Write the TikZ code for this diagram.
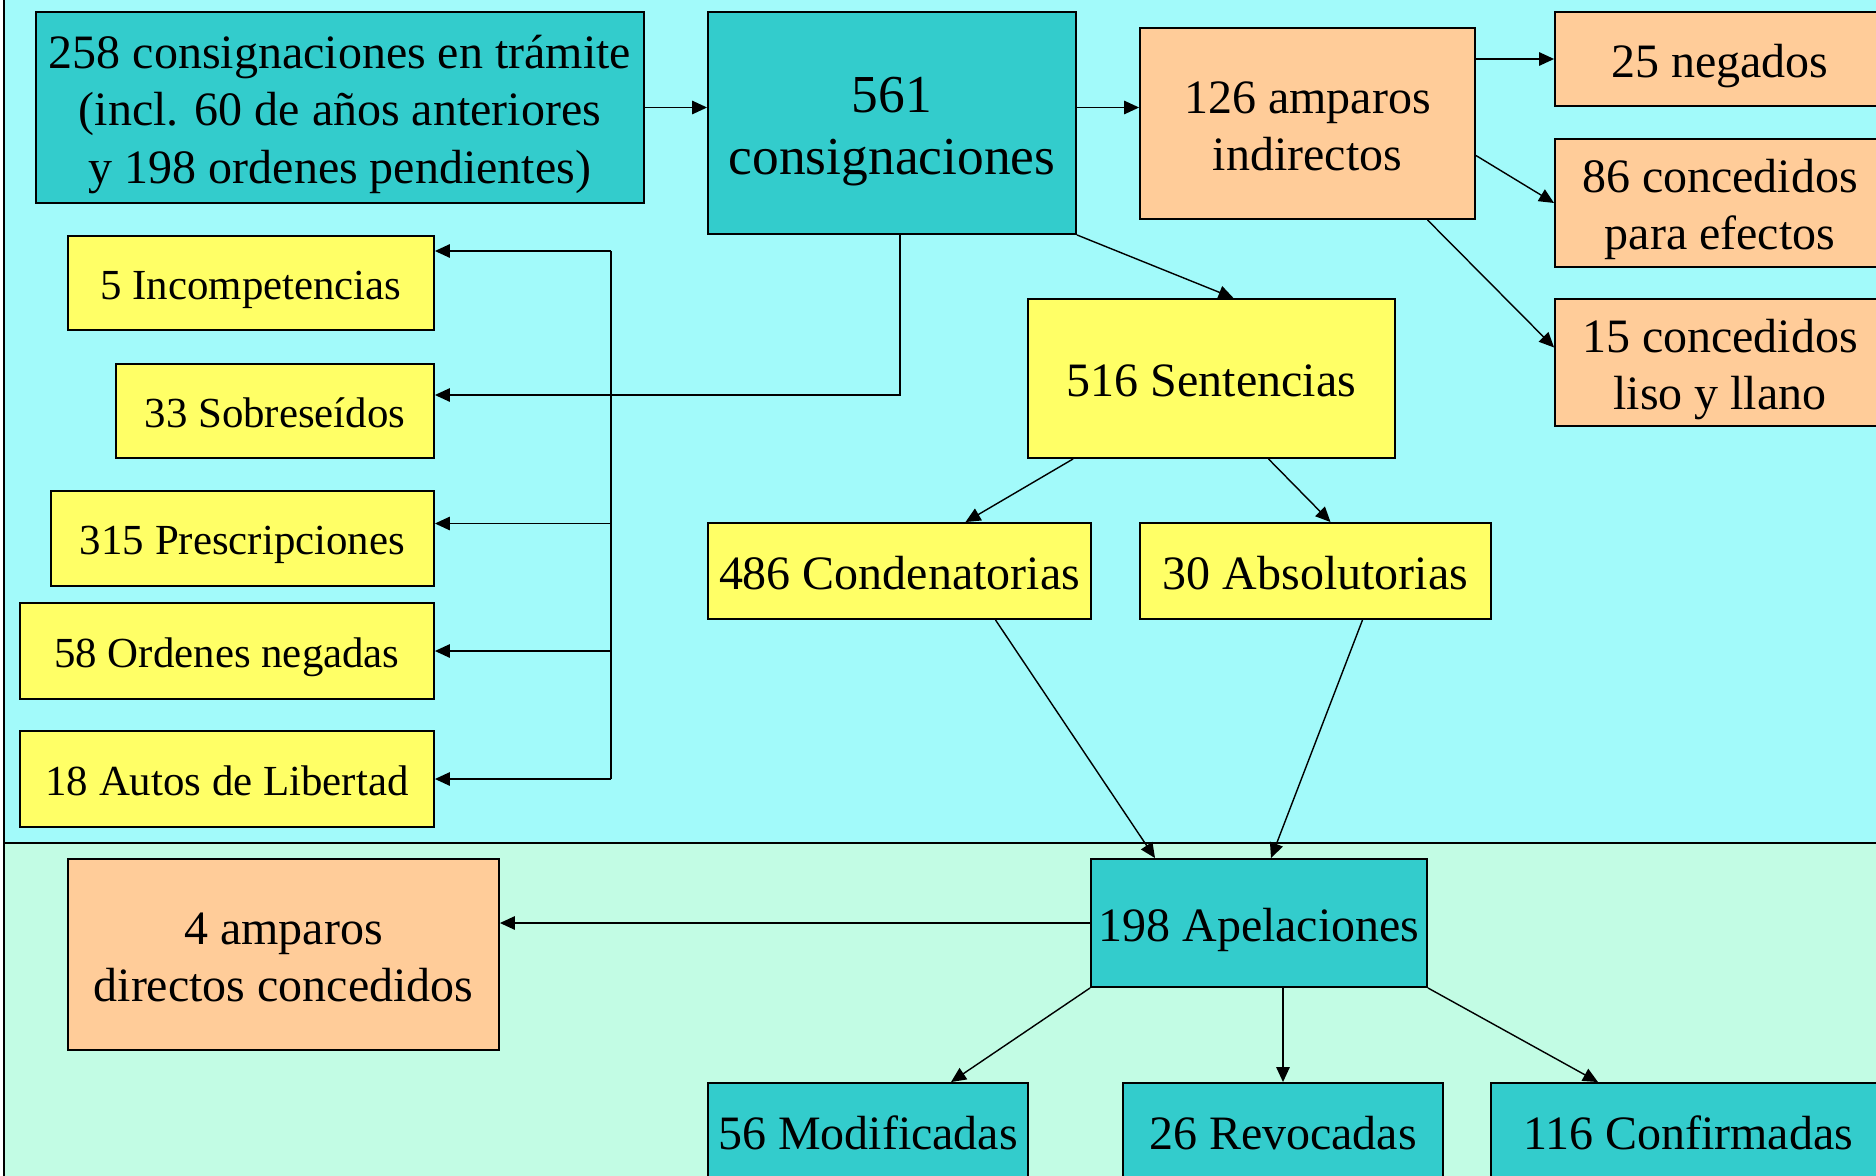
\documentclass[tikz,border=0pt]{standalone}
\usepackage{fontspec}
\setmainfont{Liberation Serif}
\usetikzlibrary{arrows.meta,calc}
\definecolor{bgtop}{RGB}{162,250,250}
\definecolor{bgbottom}{RGB}{194,252,228}
\definecolor{boxteal}{RGB}{51,204,204}
\definecolor{boxyellow}{RGB}{255,255,102}
\definecolor{boxorange}{RGB}{255,204,153}
% lifts the first line of a multi-line box the same way as a single line
\newcommand{\boxstrut}{\rule{0pt}{1.01em}}
\tikzset{
  box/.style={
    draw=black,
    line width=1.1pt,
    align=center,
    inner sep=0pt,
    font=\fontsize{27.3}{32.6}\selectfont,
    execute at begin node={\boxstrut},
    execute at end node={\rule[-0.25em]{0pt}{0pt}}
  },
  box-teal/.style={box, fill=boxteal},
  box-yellow/.style={box, fill=boxyellow},
  box-orange/.style={box, fill=boxorange},
  box-small/.style={box-yellow, font=\fontsize{24.4}{29.2}\selectfont},
  link/.style={draw=black, line width=0.8pt, -{Triangle[length=0.3cm,width=0.27cm]}}
}

\begin{document}
\begin{tikzpicture}[x=0.02cm,y=-0.02cm]
  \useasboundingbox (0,0) rectangle (1876,1176);

  % two background bands
  \draw[fill=bgtop, line width=0.9pt] (4,-10) rectangle (1890,843);
  \draw[fill=bgbottom, line width=0.9pt] (4,843) rectangle (1890,1190);

  % top row
  \node[box-teal, minimum width=12.16cm, minimum height=3.82cm] (n258) at (340,107.5)
    {\boxstrut 258 consignaciones en trámite\\(incl. 60 de años anteriores\\y 198 ordenes pendientes)};
  \node[box-teal, minimum width=7.36cm, minimum height=4.44cm,
    font=\fontsize{30.4}{35.5}\selectfont] (n561) at (892,123) {\boxstrut 561\\consignaciones};
  \node[box-orange, minimum width=6.70cm, minimum height=3.82cm] (n126) at (1307.5,123.5)
    {\boxstrut 126 amparos\\indirectos};
  \node[box-orange, minimum width=6.60cm, minimum height=1.88cm] (n25) at (1720,59) {25 negados};
  \node[box-orange, minimum width=6.60cm, minimum height=2.56cm] (n86) at (1720,203)
    {\boxstrut 86 concedidos\\para efectos};
  \node[box-orange, minimum width=6.60cm, minimum height=2.54cm] (n15) at (1720,362.5)
    {\boxstrut 15 concedidos\\liso y llano};

  % sentences
  \node[box-yellow, minimum width=7.34cm, minimum height=3.18cm] (n516) at (1211.5,378.5) {516 Sentencias};
  \node[box-yellow, minimum width=7.66cm, minimum height=1.92cm] (n486) at (899.5,571) {486 Condenatorias};
  \node[box-yellow, minimum width=7.02cm, minimum height=1.92cm] (n30) at (1315.5,571) {30 Absolutorias};

  % left column
  \node[box-small, minimum width=7.32cm, minimum height=1.88cm] (n5) at (251,283) {5 Incompetencias};
  \node[box-small, minimum width=6.36cm, minimum height=1.88cm] (n33) at (275,411) {33 Sobreseídos};
  \node[box-small, minimum width=7.66cm, minimum height=1.90cm] (n315) at (242.5,538.5) {315 Prescripciones};
  \node[box-small, minimum width=8.28cm, minimum height=1.92cm] (n58) at (227,651) {58 Ordenes negadas};
  \node[box-small, minimum width=8.28cm, minimum height=1.92cm] (n18) at (227,779) {18 Autos de Libertad};

  % appeals
  \node[box-orange, minimum width=8.62cm, minimum height=3.82cm] (n4) at (283.5,954.5)
    {\boxstrut 4 amparos\\directos concedidos};
  \node[box-teal, minimum width=6.72cm, minimum height=2.56cm] (n198) at (1259,923) {198 Apelaciones};
  \node[box-teal, minimum width=6.40cm, minimum height=1.92cm] (n56) at (868,1131) {56 Modificadas};
  \node[box-teal, minimum width=6.40cm, minimum height=1.92cm] (n26) at (1283,1131) {26 Revocadas};
  \node[box-teal, minimum width=7.88cm, minimum height=1.92cm] (n116) at (1688,1131) {116 Confirmadas};

  % arrows along the top
  \draw[link] (n258.east) -- (n258.east -| n561.west);
  \draw[link] (n258.east -| n561.east) -- (n258.east -| n126.west);
  \draw[link] (n25.west -| n126.east) -- (n25.west);
  \draw[link] ($(n126.east)+(0,32)$) -- (n86.west);
  \draw[link] ($(n126.south)+(120,0)$) -- ($(n15.west)+(0,-15)$);
  \draw[link] (n561.south east) -- ($(n516.north)+(22,0)$);

  % bus to the left column
  \coordinate (bus) at (611,0);
  \coordinate (a5) at ($(n5.east)+(0,-32)$);
  \coordinate (a33) at ($(n33.east)+(0,-16)$);
  \coordinate (a315) at ($(n315.east)+(0,-15)$);
  \draw[link] ($(n561.south)+(8,0)$) |- (a33);
  \draw[line width=0.8pt] (a5 -| bus) -- (n18.east -| bus);
  \foreach \t in {a5,a315,n58.east,n18.east}{
    \draw[link] (\t -| bus) -- (\t);
  }

  % sentences down to appeals
  \draw[link] ($(n516.south west)+(46,0)$) -- ($(n486.north)+(66,0)$);
  \draw[link] ($(n516.south)+(57,0)$) -- ($(n30.north)+(15,0)$);
  \draw[link] ($(n486.south)+(96,0)$) -- ($(n198.north)+(-104,0)$);
  \draw[link] ($(n30.south)+(47,0)$) -- ($(n198.north)+(12,0)$);
  \draw[link] (n198.west) -- (n198.west -| n4.east);
  \draw[link] (n198.south west) -- ($(n56.north)+(83,0)$);
  \draw[link] (n26.north |- n198.south) -- (n26.north);
  \draw[link] (n198.south east) -- ($(n116.north)+(-90,0)$);

\end{tikzpicture}
\end{document}
